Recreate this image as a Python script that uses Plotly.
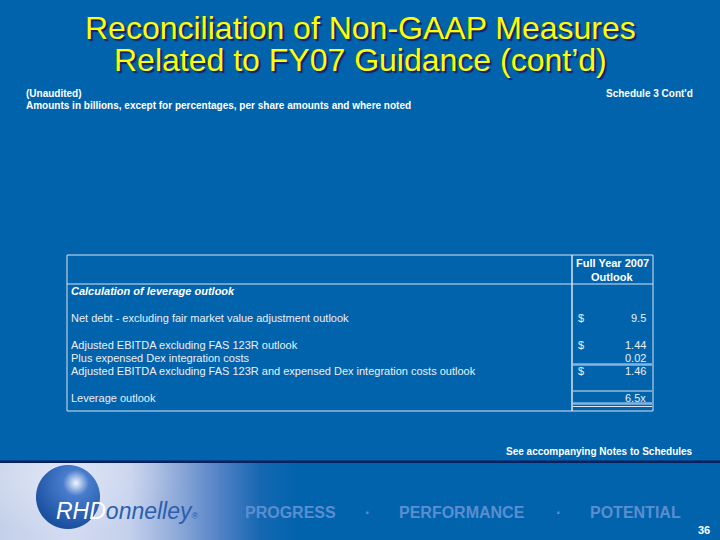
import base64
import struct
import zlib

import numpy as np
import plotly.graph_objects as go

# ---------------- data ----------------
title_lines = ["Reconciliation of Non-GAAP Measures", "Related to FY07 Guidance (cont\u2019d)"]
note_left = ["(Unaudited)", "Amounts in billions, except for percentages, per share amounts and where noted"]
note_right = "Schedule 3 Cont'd"
col_header = ["Full Year 2007", "Outlook"]
row_labels = [
    "Calculation of leverage outlook",
    "Net debt - excluding fair market value adjustment outlook",
    "Adjusted EBITDA excluding FAS 123R outlook",
    "Plus expensed Dex integration costs",
    "Adjusted EBITDA excluding FAS 123R and expensed Dex integration costs outlook",
    "Leverage outlook",
]
row_slots = [0, 2, 4, 5, 6, 8]
dollar_signs = ["", "$", "$", "", "$", ""]
outlook_values = [None, 9.5, 1.44, 0.02, 1.46, 6.5]
value_decimals = [0, 1, 2, 2, 2, 1]
value_suffix = ["", "", "", "", "", "x"]
footer_note = "See accompanying Notes to Schedules"
tagline = ["PROGRESS", "PERFORMANCE", "POTENTIAL"]
page_number = "36"

# ---------------- style ----------------
BG = "#0063AC"
BG_RGB = np.array([0, 99, 172], dtype=float)
FONT = "Liberation Sans, Arial, sans-serif"
TXT = "#ECEFF4"
BOX = "#D8E4F2"
UL = "#86B4E0"


def png_data_uri(arr):
    arr = np.clip(arr, 0, 255).astype(np.uint8)
    h, w, _ = arr.shape
    raw = b"".join(b"\x00" + arr[i].tobytes() for i in range(h))

    def chunk(tag, data):
        c = struct.pack(">I", len(data)) + tag + data
        return c + struct.pack(">I", zlib.crc32(tag + data) & 0xFFFFFFFF)

    png = (b"\x89PNG\r\n\x1a\n"
           + chunk(b"IHDR", struct.pack(">IIBBBBB", w, h, 8, 2, 0, 0, 0))
           + chunk(b"IDAT", zlib.compress(raw, 9))
           + chunk(b"IEND", b""))
    return "data:image/png;base64," + base64.b64encode(png).decode()


# footer band: horizontal light-to-blue gradient with a soft glow, plus the sphere
BAND_TOP, BAND_H = 463, 77
yy, xx = np.mgrid[0:BAND_H, 0:720].astype(float)
Y = yy + BAND_TOP + 0.5
X = xx + 0.5
gx = [0, 70, 130, 180, 220, 260, 300, 720]
gr = [196, 212, 196, 140, 82, 22, 0, 0]
gg = [208, 220, 208, 168, 130, 104, 99, 99]
gb = [234, 242, 236, 216, 198, 178, 172, 172]
img = np.stack([np.interp(X, gx, gr), np.interp(X, gx, gg), np.interp(X, gx, gb)], axis=-1)
glow = np.clip(1 - np.sqrt(((X - 60) / 120) ** 2 + ((Y - 475) / 60) ** 2), 0, 1)
img = img + glow[..., None] * (np.array([236, 240, 250.]) - img) * 0.5
cx, cy, r = 68, 497, 32
ds = np.sqrt((X - cx) ** 2 + (Y - cy) ** 2)
hs = np.clip(np.sqrt((X - 76) ** 2 + (Y - 483) ** 2) / (r * 1.45), 0, 1)
c_hi = np.array([242, 246, 255], dtype=float)
c_mid = np.array([72, 124, 204], dtype=float)
c_edge = np.array([26, 78, 158], dtype=float)
a1 = np.clip(hs / 0.28, 0, 1)[..., None]
a2 = np.clip((hs - 0.28) / 0.72, 0, 1)[..., None]
col = np.where((hs < 0.28)[..., None], c_hi + a1 * (c_mid - c_hi), c_mid + a2 * (c_edge - c_mid))
alpha = np.clip(r - ds + 0.5, 0, 1)[..., None]
img = img * (1 - alpha) + col * alpha
band_uri = png_data_uri(img)

fig = go.Figure()
fig.add_trace(go.Scatter(x=[0], y=[0], mode="markers", marker=dict(opacity=0),
                         hoverinfo="skip", showlegend=False))

ann = []


def text(x, y, s, size, color=TXT, anchor="left", bold=False, italic=False,
         family=FONT, shadow=None):
    if italic:
        s = "<i>" + s + "</i>"
    if bold:
        s = "<b>" + s + "</b>"
    font = dict(family=family, size=size, color=color)
    if shadow:
        font["shadow"] = shadow
    ann.append(dict(x=x, y=y, xref="x", yref="y", text=s, showarrow=False,
                    xanchor=anchor, yanchor="middle", font=font))


# title with drop shadow
for i, line in enumerate(title_lines):
    text(360, 28 + 32 * i, line, 32, color="#FFFF00", anchor="center",
         shadow="2px 2px 1px #1A1F6A")

# notes
text(24, 93, note_left[0], 10, color="white", bold=True)
text(24, 105, note_left[1], 10, color="white", bold=True)
text(695, 93, note_right, 10, color="white", anchor="right", bold=True)

# table
X0, X1, XD = 67, 653, 572
TOP, HSEP, BOT = 255, 284, 411
ROW0, STEP = 291, 13.4
text(612, 263, col_header[0], 11, color="white", anchor="center", bold=True)
text(612, 277, col_header[1], 11, color="white", anchor="center", bold=True)

for lab, slot, ds_, v, dec, suf in zip(row_labels, row_slots, dollar_signs,
                                       outlook_values, value_decimals, value_suffix):
    ry = ROW0 + STEP * slot
    if slot == 0:
        text(69, ry, lab, 11, color="white", bold=True, italic=True)
    else:
        text(69, ry, lab, 11)
    if ds_:
        text(576, ry, ds_, 11)
    if v is not None:
        text(648, ry, f"{v:.{dec}f}{suf}", 11, anchor="right")

shapes = [
    dict(type="rect", x0=X0, x1=X1, y0=TOP, y1=BOT, line=dict(color=BOX, width=1)),
    dict(type="line", x0=X0, x1=X1, y0=HSEP, y1=HSEP, line=dict(color=BOX, width=1)),
    dict(type="line", x0=XD, x1=XD, y0=TOP, y1=BOT, line=dict(color=BOX, width=1.5)),
    dict(type="line", x0=XD + 1, x1=X1 - 1, y0=364.5, y1=364.5, line=dict(color=UL, width=2.5)),
    dict(type="line", x0=XD + 1, x1=X1 - 1, y0=391, y1=391, line=dict(color=BOX, width=1)),
    dict(type="line", x0=XD + 1, x1=X1 - 1, y0=403.5, y1=403.5, line=dict(color=UL, width=2.5)),
    dict(type="line", x0=XD + 1, x1=X1 - 1, y0=406.5, y1=406.5, line=dict(color=BOX, width=1)),
    # navy divider above footer band
    dict(type="rect", x0=0, x1=720, y0=460.5, y1=463, fillcolor="#0B1F5C", line=dict(width=0)),
]

# footer
text(695, 451, footer_note, 10, color="white", anchor="right", bold=True)
text(54, 511,
     "<span style='color:white'>RHD</span><span style='color:#2A5FAE'>onnelley</span>"
     "<span style='color:#2A5FAE;font-size:9px'>\u00ae</span>",
     23, italic=True)
TAG = "#5A8ED0"
text(290, 512, tagline[0], 16, color=TAG, anchor="center", bold=True)
text(367, 512, "\u00b7", 16, color=TAG, anchor="center", bold=True)
text(462, 512, tagline[1], 16, color=TAG, anchor="center", bold=True)
text(558, 512, "\u00b7", 16, color=TAG, anchor="center", bold=True)
text(635, 512, tagline[2], 16, color=TAG, anchor="center", bold=True)
text(712, 530, page_number, 11, color="white", anchor="right", bold=True)

fig.update_layout(
    width=720, height=540,
    margin=dict(l=0, r=0, t=0, b=0),
    paper_bgcolor=BG, plot_bgcolor="rgba(0,0,0,0)",
    xaxis=dict(range=[0, 720], visible=False, fixedrange=True),
    yaxis=dict(range=[540, 0], visible=False, fixedrange=True),
    showlegend=False,
    hovermode=False,
    annotations=ann,
    shapes=shapes,
    images=[dict(source=band_uri, xref="paper", yref="paper", x=0, y=BAND_H / 540,
                 sizex=1, sizey=BAND_H / 540, xanchor="left", yanchor="top",
                 sizing="stretch", layer="below")],
)

fig.write_html("out.html",
               config={"displayModeBar": False, "staticPlot": True},
               post_script="document.body.style.margin='0';document.body.style.padding='0';"
                           "document.body.style.background='" + BG + "';")
